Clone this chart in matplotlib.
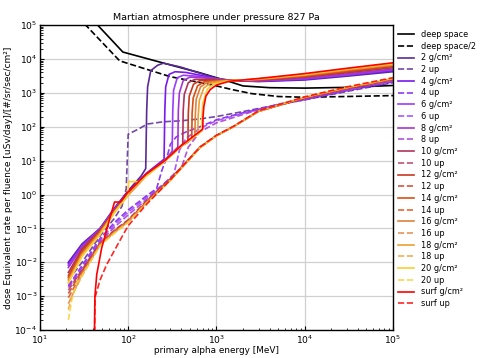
import matplotlib
matplotlib.use("Agg")
import matplotlib.pyplot as plt

title = "Martian atmosphere under pressure 827 Pa"
xlabel = "primary alpha energy [MeV]"
ylabel = "dose Equivalent rate per fluence [uSv/day]/[#/sr/sec/cm²]"

# deep space reference curves
ds_E = [20, 45, 60, 87, 240, 650, 1400, 2000, 4000, 10000, 30000, 100000]
ds_v = [9e5, 1e5, 4.5e4, 1.6e4, 7800, 3900, 2150, 1600, 1420, 1380, 1450, 1650]
ds2_E = [20, 33, 80, 160, 300, 600, 1000, 1500, 2500, 5000, 10000, 30000, 100000]
ds2_v = [4e5, 1e5, 8800, 5000, 3000, 2100, 1600, 1250, 950, 780, 740, 780, 830]

labels = ["2", "4", "6", "8", "10", "12", "14", "16", "18", "20", "surf"]
colors = ["#5b2a96", "#7a18f0", "#9a3cff", "#a535d2", "#b0335a", "#c8381f",
          "#dc4e12", "#e0823e", "#eea035", "#fcce30", "#ff0000"]

# solid curves (g/cm²)
s2_E = [21, 30, 48, 70, 100, 140, 158, 162, 166, 180, 215, 250, 390, 650, 1000, 1500, 3000, 10000, 30000, 100000]
s2_v = [1e-2, 3.5e-2, 0.1, 0.4, 1.3, 3.5, 5.8, 300, 1500, 4500, 6500, 7500, 5800, 3800, 2700, 2300, 2150, 2400, 3100, 4200]
s4_E = [21, 30, 48, 70, 100, 160, 255, 260, 266, 290, 340, 450, 700, 1000, 1500, 3000, 10000, 30000, 100000]
s4_v = [9e-3, 3.2e-2, 0.1, 0.38, 1.2, 4.2, 11, 300, 1500, 3500, 4200, 4000, 3200, 2600, 2300, 2200, 2500, 3300, 4500]
s6_E = [21, 30, 48, 70, 100, 160, 260, 315, 320, 327, 360, 420, 600, 1000, 1500, 3000, 10000, 30000, 100000]
s6_v = [8e-3, 3e-2, 0.095, 0.36, 1.15, 4.0, 10, 19, 300, 1200, 2800, 3300, 3100, 2600, 2300, 2250, 2600, 3400, 4800]
s8_E = [21, 30, 48, 70, 100, 160, 260, 365, 370, 380, 420, 500, 700, 1000, 1500, 3000, 10000, 30000, 100000]
s8_v = [7e-3, 2.8e-2, 0.09, 0.35, 1.1, 3.9, 10, 25, 300, 1000, 2300, 2900, 2800, 2500, 2300, 2300, 2700, 3600, 5000]
s10_E = [21, 30, 48, 70, 100, 160, 260, 415, 420, 432, 480, 570, 800, 1500, 3000, 10000, 30000, 100000]
s10_v = [5e-3, 2.5e-2, 0.09, 0.34, 1.1, 3.9, 10, 31, 300, 900, 2000, 2500, 2500, 2300, 2350, 2900, 3900, 5500]
s12_E = [21, 30, 48, 70, 100, 160, 260, 400, 475, 480, 492, 550, 650, 900, 1500, 3000, 10000, 30000, 100000]
s12_v = [4e-3, 2.2e-2, 0.085, 0.33, 1.05, 3.8, 10, 27, 35, 250, 800, 1800, 2300, 2400, 2300, 2400, 3000, 4200, 6000]
s14_E = [21, 30, 48, 70, 100, 160, 260, 400, 525, 530, 545, 610, 720, 1000, 1500, 3000, 10000, 30000, 100000]
s14_v = [3.5e-3, 2e-2, 0.08, 0.32, 1.0, 3.7, 10, 27, 44, 250, 700, 1600, 2100, 2300, 2300, 2450, 3100, 4400, 6300]
s16_E = [21, 30, 48, 70, 100, 160, 260, 400, 570, 575, 590, 660, 780, 1100, 1500, 3000, 10000, 30000, 100000]
s16_v = [3e-3, 1.8e-2, 0.075, 0.31, 1.0, 3.6, 9.8, 27, 50, 200, 650, 1500, 2000, 2250, 2300, 2500, 3300, 4700, 6600]
s18_E = [21, 30, 48, 70, 100, 160, 260, 400, 615, 620, 640, 720, 850, 1200, 1500, 3000, 10000, 30000, 100000]
s18_v = [2.5e-3, 1.6e-2, 0.07, 0.3, 0.95, 3.5, 9.6, 27, 60, 200, 600, 1400, 1900, 2200, 2300, 2550, 3400, 4900, 7000]
s20_E = [21, 30, 48, 70, 99, 101, 135, 160, 260, 400, 680, 685, 700, 790, 930, 1300, 3000, 10000, 30000, 100000]
s20_v = [2.5e-3, 1.5e-2, 0.065, 0.29, 0.95, 2.4, 2.4, 3.5, 9.5, 27, 74, 200, 500, 1300, 1800, 2200, 2600, 3500, 5100, 7300]
ssurf_E = [41, 42, 44, 50, 62, 70, 82, 100, 160, 260, 400, 700, 705, 720, 760, 850, 1000, 1400, 3000, 10000, 30000, 100000]
ssurf_v = [1e-5, 1e-3, 4.3e-3, 2.6e-2, 0.2, 0.6, 0.6, 1.2, 4.0, 10, 28, 85, 200, 400, 800, 1250, 1700, 2200, 2650, 3700, 5300, 7700]

# dashed curves (up)
u2_E = [21, 30, 48, 70, 85, 95, 100, 130, 165, 250, 400, 650, 1000, 2000, 5000, 10000, 30000, 100000]
u2_v = [3e-3, 1e-2, 0.06, 0.2, 0.45, 1.5, 60, 85, 120, 140, 150, 170, 200, 280, 450, 620, 1100, 2000]
u4_E = [21, 30, 48, 70, 100, 160, 210, 240, 280, 300, 350, 450, 650, 1000, 2000, 5000, 10000, 30000, 100000]
u4_v = [2e-3, 8e-3, 0.05, 0.15, 0.35, 0.9, 1.5, 5, 15, 30, 50, 70, 100, 160, 260, 440, 630, 1150, 2100]
u6_E = [21, 30, 48, 70, 100, 160, 250, 330, 380, 450, 650, 1000, 2000, 5000, 10000, 30000, 100000]
u6_v = [2e-3, 7e-3, 0.045, 0.13, 0.3, 0.8, 2.0, 4.0, 20, 45, 90, 150, 250, 450, 650, 1200, 2200]
u8_E = [21, 30, 48, 70, 100, 160, 300, 400, 480, 650, 1000, 2000, 5000, 10000, 30000, 100000]
u8_v = [1.8e-3, 6e-3, 0.04, 0.11, 0.25, 0.7, 3.0, 6.0, 25, 70, 130, 230, 460, 660, 1250, 2300]
u10_E = [21, 30, 48, 70, 100, 160, 300, 650, 1000, 1550, 3000, 10000, 30000, 100000]
u10_v = [1.5e-3, 6e-3, 0.037, 0.09, 0.18, 0.65, 2.9, 25, 55, 100, 285, 700, 1300, 2400]
u12_E = [21, 30, 48, 70, 100, 160, 300, 650, 1000, 1550, 3000, 10000, 30000, 100000]
u12_v = [1.2e-3, 5.5e-3, 0.036, 0.085, 0.17, 0.6, 2.8, 25, 55, 100, 285, 710, 1350, 2500]
u14_E = [21, 30, 48, 70, 100, 160, 300, 650, 1000, 1550, 3000, 10000, 30000, 100000]
u14_v = [9e-4, 5e-3, 0.034, 0.08, 0.16, 0.58, 2.7, 24, 54, 100, 285, 720, 1380, 2550]
u16_E = [21, 30, 48, 70, 100, 160, 300, 650, 1000, 1550, 3000, 10000, 30000, 100000]
u16_v = [6e-4, 4.5e-3, 0.033, 0.078, 0.16, 0.56, 2.6, 24, 54, 100, 285, 730, 1400, 2600]
u18_E = [21, 23, 30, 48, 70, 100, 160, 300, 650, 1000, 1550, 3000, 10000, 30000, 100000]
u18_v = [4e-4, 1e-3, 4e-3, 0.032, 0.075, 0.155, 0.55, 2.6, 24, 54, 100, 285, 740, 1420, 2650]
u20_E = [21, 23, 26, 30, 48, 70, 100, 160, 300, 650, 1000, 1550, 3000, 10000, 30000, 100000]
u20_v = [2e-4, 8e-4, 2.5e-3, 4e-3, 0.031, 0.072, 0.15, 0.55, 2.6, 24, 54, 100, 290, 750, 1450, 2700]
usurf_E = [41.5, 42, 48, 57, 81, 100, 160, 300, 650, 1000, 1550, 3000, 10000, 30000, 100000]
usurf_v = [1e-5, 9e-4, 3e-3, 8.5e-3, 0.045, 0.12, 0.5, 2.7, 25, 56, 102, 295, 760, 1500, 2800]

solid = [(s2_E, s2_v), (s4_E, s4_v), (s6_E, s6_v), (s8_E, s8_v), (s10_E, s10_v),
         (s12_E, s12_v), (s14_E, s14_v), (s16_E, s16_v), (s18_E, s18_v),
         (s20_E, s20_v), (ssurf_E, ssurf_v)]
dashed = [(u2_E, u2_v), (u4_E, u4_v), (u6_E, u6_v), (u8_E, u8_v), (u10_E, u10_v),
          (u12_E, u12_v), (u14_E, u14_v), (u16_E, u16_v), (u18_E, u18_v),
          (u20_E, u20_v), (usurf_E, usurf_v)]

fig = plt.figure(figsize=(4.81, 3.58), dpi=100)
ax = fig.add_axes([0.083, 0.078, 0.734, 0.852])

ax.plot(ds_E, ds_v, color="black", lw=1.2, label="deep space")
ax.plot(ds2_E, ds2_v, color="black", lw=1.2, ls="--", label="deep space/2")
for lab, c, (se, sv), (ue, uv) in zip(labels, colors, solid, dashed):
    ax.plot(se, sv, color=c, lw=1.2, label=f"{lab} g/cm²")
    ax.plot(ue, uv, color=c, lw=1.2, ls="--", alpha=0.85, label=f"{lab} up")

ax.set_xscale("log")
ax.set_yscale("log")
ax.set_xlim(10, 1e5)
ax.set_ylim(1e-4, 1e5)
ax.grid(True, which="major", color="#d0d0d0", lw=0.9)
ax.set_axisbelow(True)
ax.tick_params(which="both", direction="in")
ax.tick_params(which="major", labelsize=6.6, length=3, pad=2)
ax.tick_params(axis="x", which="major", pad=2.6)
ax.tick_params(which="minor", length=1.8)
ax.set_title(title, fontsize=6.8, pad=4)
ax.set_xlabel(xlabel, fontsize=6.4)
ax.xaxis.set_label_coords(0.5, -0.053)
ax.set_ylabel(ylabel, fontsize=6.5, labelpad=1)
for s in ax.spines.values():
    s.set_linewidth(1.0)

ax.legend(loc="upper left", bbox_to_anchor=(1.0, 1.0), frameon=False,
          fontsize=5.9, handlelength=2.0, labelspacing=0.33, borderaxespad=0.2,
          handletextpad=0.8)

fig.savefig("out.png", dpi=100)
